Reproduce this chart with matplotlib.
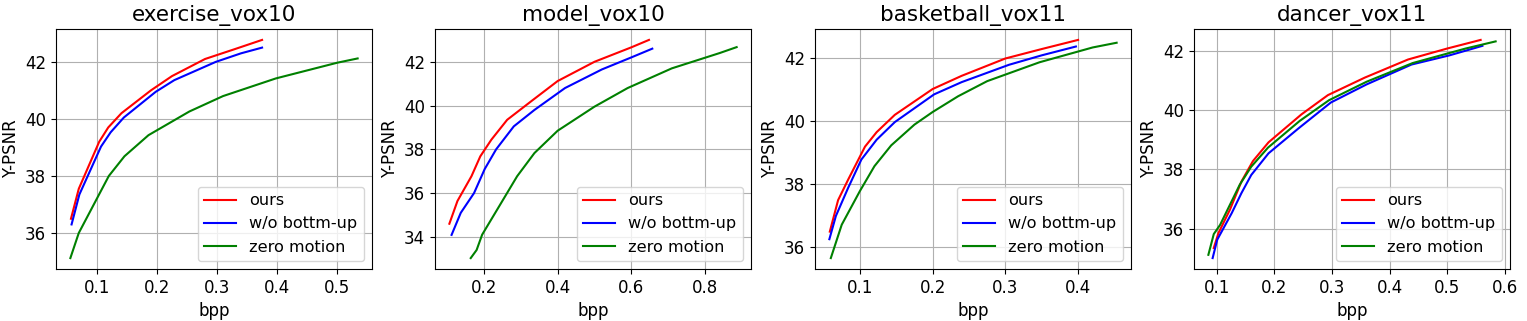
import matplotlib.pyplot as plt

titles = ['exercise_vox10', 'model_vox10', 'basketball_vox11', 'dancer_vox11']
labels = ['ours', 'w/o bottm-up', 'zero motion']
colors = ['r', 'b', 'g']

# exercise_vox10
ex_ours_x = [0.057, 0.070, 0.104, 0.119, 0.141, 0.190, 0.225, 0.280, 0.330, 0.375]
ex_ours_y = [36.5, 37.55, 39.2, 39.7, 40.2, 41.0, 41.5, 42.1, 42.45, 42.77]
ex_wo_x = [0.058, 0.071, 0.107, 0.123, 0.145, 0.198, 0.229, 0.298, 0.340, 0.375]
ex_wo_y = [36.3, 37.35, 39.03, 39.53, 40.05, 40.95, 41.36, 42.0, 42.3, 42.5]
ex_zero_x = [0.056, 0.070, 0.120, 0.146, 0.186, 0.254, 0.310, 0.398, 0.500, 0.534]
ex_zero_y = [35.12, 36.0, 38.0, 38.69, 39.43, 40.26, 40.8, 41.42, 41.97, 42.12]

# model_vox10
mo_ours_x = [0.106, 0.128, 0.166, 0.190, 0.220, 0.263, 0.330, 0.400, 0.500, 0.600, 0.648]
mo_ours_y = [34.6, 35.64, 36.77, 37.68, 38.44, 39.35, 40.22, 41.12, 42.0, 42.66, 43.0]
mo_wo_x = [0.112, 0.137, 0.173, 0.202, 0.233, 0.281, 0.337, 0.420, 0.520, 0.600, 0.657]
mo_wo_y = [34.09, 35.1, 36.0, 37.1, 38.0, 39.05, 39.8, 40.8, 41.65, 42.2, 42.6]
mo_zero_x = [0.164, 0.180, 0.195, 0.247, 0.290, 0.337, 0.400, 0.500, 0.590, 0.710, 0.840, 0.886]
mo_zero_y = [33.03, 33.4, 34.1, 35.56, 36.77, 37.83, 38.85, 39.95, 40.8, 41.7, 42.4, 42.67]

# basketball_vox11
bb_ours_x = [0.0586, 0.070, 0.084, 0.107, 0.123, 0.148, 0.200, 0.240, 0.300, 0.350, 0.400]
bb_ours_y = [36.5, 37.5, 38.16, 39.2, 39.66, 40.21, 41.03, 41.45, 42.0, 42.3, 42.59]
bb_wo_x = [0.058, 0.067, 0.084, 0.102, 0.123, 0.148, 0.202, 0.240, 0.305, 0.350, 0.397]
bb_wo_y = [36.26, 37.0, 37.9, 38.79, 39.42, 39.98, 40.86, 41.25, 41.8, 42.1, 42.38]
bb_zero_x = [0.060, 0.075, 0.100, 0.120, 0.143, 0.175, 0.200, 0.235, 0.275, 0.347, 0.420, 0.453]
bb_zero_y = [35.66, 36.72, 37.79, 38.58, 39.24, 39.9, 40.3, 40.8, 41.28, 41.88, 42.35, 42.5]

# dancer_vox11
da_ours_x = [0.095, 0.103, 0.123, 0.143, 0.163, 0.190, 0.247, 0.293, 0.357, 0.432, 0.500, 0.558]
da_ours_y = [35.35, 35.85, 36.64, 37.59, 38.28, 38.91, 39.85, 40.5, 41.09, 41.7, 42.07, 42.36]
da_wo_x = [0.093, 0.101, 0.126, 0.143, 0.160, 0.190, 0.242, 0.298, 0.360, 0.438, 0.504, 0.561]
da_wo_y = [35.01, 35.63, 36.52, 37.2, 37.81, 38.54, 39.38, 40.25, 40.86, 41.53, 41.84, 42.16]
da_zero_x = [0.0856, 0.095, 0.106, 0.140, 0.160, 0.189, 0.244, 0.295, 0.360, 0.440, 0.532, 0.584]
da_zero_y = [35.12, 35.82, 36.13, 37.48, 38.09, 38.73, 39.63, 40.33, 40.95, 41.58, 42.07, 42.31]

panels = [
    [(ex_ours_x, ex_ours_y), (ex_wo_x, ex_wo_y), (ex_zero_x, ex_zero_y)],
    [(mo_ours_x, mo_ours_y), (mo_wo_x, mo_wo_y), (mo_zero_x, mo_zero_y)],
    [(bb_ours_x, bb_ours_y), (bb_wo_x, bb_wo_y), (bb_zero_x, bb_zero_y)],
    [(da_ours_x, da_ours_y), (da_wo_x, da_wo_y), (da_zero_x, da_zero_y)],
]

W, H = 1527, 321
fig = plt.figure(figsize=(W / 100, H / 100), dpi=100)
lefts = [56, 435, 815, 1194]
width = 316
top, bottom = 29, 269

for i, left in enumerate(lefts):
    ax = fig.add_axes([left / W, 1 - bottom / H, width / W, (bottom - top) / H])
    for (x, y), lab, c in zip(panels[i], labels, colors):
        ax.plot(x, y, color=c, label=lab, linewidth=1.5)
    ax.set_title(titles[i], fontsize=15.5)
    ax.set_xlabel('bpp', fontsize=12)
    ax.set_ylabel('Y-PSNR', fontsize=12)
    ax.tick_params(labelsize=12)
    ax.grid(True)
    ax.legend(loc='lower right', fontsize=11.6)

plt.savefig('out.png', dpi=100)
